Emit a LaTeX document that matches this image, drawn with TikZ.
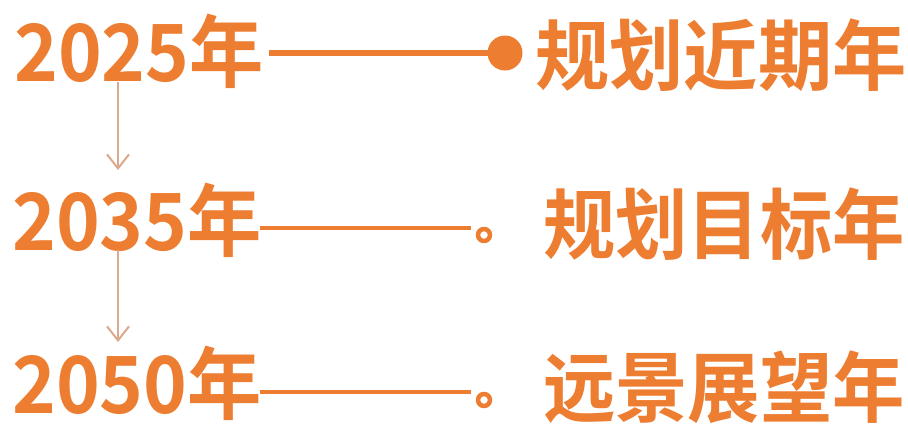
\documentclass[tikz,border=0pt]{standalone}
\usepackage{fontspec}
\newfontfamily\cjk{Noto Sans CJK SC}[BoldFont={Noto Sans CJK SC Bold}]
\usetikzlibrary{arrows.meta}
\definecolor{nianorange}{HTML}{ED7D31}
\definecolor{jiantou}{HTML}{DBA98C}
\tikzset{
  nian/.style={anchor=base west, inner sep=0pt, text=nianorange, font=\cjk\bfseries\fontsize{79}{79}\selectfont},
  mubiao/.style={anchor=base west, inner sep=0pt, text=nianorange, font=\cjk\bfseries\fontsize{77}{77}\selectfont},
  jt/.style={draw=jiantou, line width=2pt, -{Straight Barb[length=14pt, width=22pt, line width=2pt]}},
  henxian/.style={draw=nianorange, line width=4pt},
  quan/.style={circle, draw=nianorange, line width=4.5pt, minimum size=12pt, inner sep=0pt},
}
\begin{document}
\begin{tikzpicture}[x=1pt, y=-1pt, line join=round, >=stealth]
\useasboundingbox[fill=white] (0,0) rectangle (908,424);
\foreach \i/\yr/\xl/\bl/\txt/\xr/\br/\sx in {1/2025/14/81/规划近期年/535/84/0.965, 2/2035/12/250/规划目标年/543/253/0.94, 3/2050/12/413/远景展望年/543/416/0.94}{
  \node[nian] (yr\i) at (\xl,\bl) {\scalebox{0.94}[1]{{\yr}年}};
  \node[mubiao] (mb\i) at (\xr,\br) {\scalebox{\sx}[1]{\txt}};
}
% dots and lines
\node[circle, fill=nianorange, minimum size=35pt, inner sep=0pt] (dot1) at (505,53) {};
\node[quan] (dot2) at (484,235) {};
\node[quan] (dot3) at (484,400) {};
\coordinate (l1) at (269,53);
\coordinate (l2) at (260,228);
\coordinate (l3) at (260,392);
\draw[henxian, line width=6pt] (l1) -- (dot1.center);
\draw[henxian] (l2) -- (471,228);
\draw[henxian] (l3) -- (471,392);
% arrows
\coordinate (ax) at (118,0);
\draw[jt, shorten <=1pt, shorten >=80pt] (ax |- yr1.base) -- (ax |- yr2.base);
\draw[jt, shorten >=71pt] (ax |- yr2.base) -- (ax |- yr3.base);
\end{tikzpicture}
\end{document}
